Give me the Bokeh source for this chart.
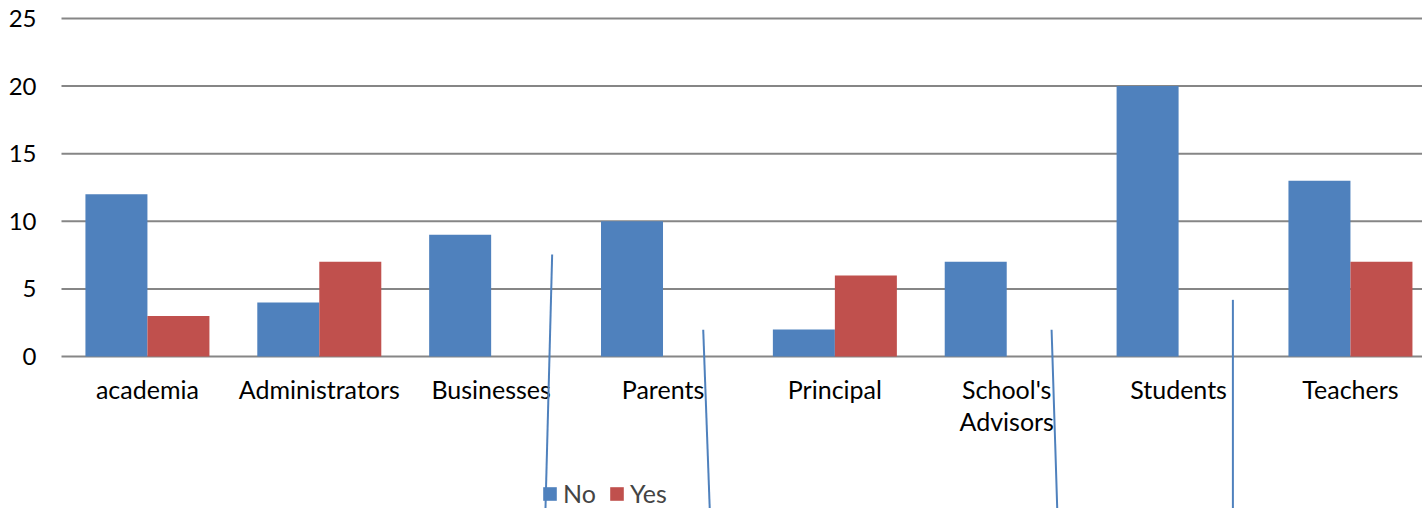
from bokeh.plotting import figure
from bokeh.models import Range1d, Legend, LegendItem, ColumnDataSource
from bokeh.core.properties import value
from bokeh.embed import file_html
from bokeh.resources import INLINE

categories = ["academia", "Administrators", "Businesses", "Parents", "Principal",
              "School's\nAdvisors", "Students", "Teachers"]
no_values = [12, 4, 9, 10, 2, 7, 20, 13]
yes_values = [3, 7, 0, 0, 6, 0, 0, 7]
y_ticks = [0, 5, 10, 15, 20, 25]
series_names = ["No", "Yes"]
series_colors = ["#4F81BD", "#C0504D"]

# stray connector lines visible in the original picture (x in category units, y in value units)
stray_x0 = [2.855, 3.734, 5.761, 6.816]
stray_y0 = [7.54, 1.98, 1.98, 4.19]
stray_x1 = [2.816, 3.772, 5.794, 6.816]
stray_y1 = [-11.3, -11.3, -11.3, -11.3]

W, H = 1422, 508
left_px, zero_px, px_per_unit = 61, 356, 13.52
n = len(categories)
x_px_per_cat = 171.86

p = figure(width=W, height=H, output_backend="svg", toolbar_location=None,
           min_border=0, min_border_left=0, min_border_right=0,
           min_border_top=0, min_border_bottom=0,
           x_range=Range1d(-left_px / x_px_per_cat, (W - left_px) / x_px_per_cat),
           y_range=Range1d(-(H - zero_px) / px_per_unit, zero_px / px_per_unit))
p.xaxis.visible = False
p.yaxis.visible = False
p.xgrid.visible = False
p.ygrid.visible = False
p.outline_line_color = None
p.background_fill_color = "white"
p.border_fill_color = "white"

FONT = value("Lato")

# gridlines
p.segment(x0=[0] * len(y_ticks), x1=[n] * len(y_ticks), y0=y_ticks, y1=y_ticks,
          line_color="#868686", line_width=2)

# y tick labels
p.text(x=[0] * len(y_ticks), y=y_ticks, text=[str(t) for t in y_ticks],
       text_align="right", text_baseline="middle", x_offset=-25,
       text_font=FONT, text_font_size="24px", text_color="black")

bw = 62 / x_px_per_cat
centers = [i + 0.5 for i in range(n)]
src = ColumnDataSource(dict(xn=[c - bw / 2 for c in centers], xy=[c + bw / 2 for c in centers],
                            no=no_values, yes=yes_values))
r_no = p.vbar(x="xn", top="no", bottom=0, width=bw, source=src,
              fill_color=series_colors[0], line_color=None)
r_yes = p.vbar(x="xy", top="yes", bottom=0, width=bw, source=src,
               fill_color=series_colors[1], line_color=None)

# category labels
p.text(x=centers, y=[0] * n, text=categories, text_align="center", text_baseline="top",
       y_offset=17, text_font=FONT, text_font_size="25px", text_color="black",
       text_line_height=1.07)

# stray lines
p.segment(x0=stray_x0, y0=stray_y0, x1=stray_x1, y1=stray_y1,
          line_color="#4F81BD", line_width=2)

legend = Legend(items=[LegendItem(label=series_names[0], renderers=[r_no]),
                       LegendItem(label=series_names[1], renderers=[r_yes])],
                orientation="horizontal", location=(541, 0),
                glyph_width=17, glyph_height=17, label_standoff=5, spacing=12,
                padding=0, margin=0, border_line_color=None, background_fill_alpha=0,
                label_text_font="Lato", label_text_font_size="25px", label_height=22)
p.add_layout(legend, "center")

open("out.html", "w").write(file_html(p, INLINE))
